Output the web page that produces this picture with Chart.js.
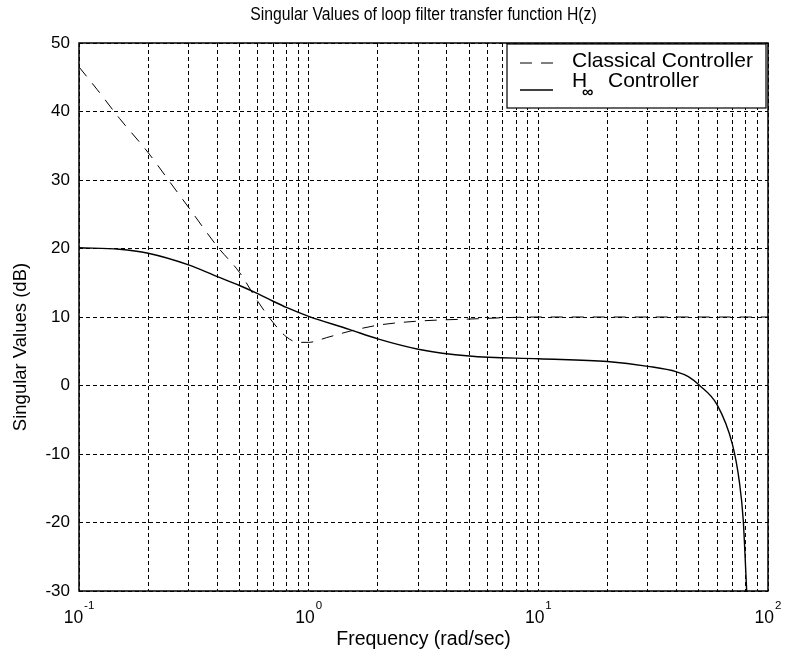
<!DOCTYPE html>
<html>
<head>
<meta charset="utf-8">
<script src="https://cdn.jsdelivr.net/npm/chart.js@4.4.1/dist/chart.umd.min.js"></script>
<style>
  html, body { margin: 0; padding: 0; background: #fff; }
  canvas { display: block; }
</style>
</head>
<body>
<canvas id="svChart" width="788" height="661"></canvas>
<script>
// singular value curves, frequency in rad/sec, magnitude in dB
const freqClassical = [0.1, 0.12, 0.15, 0.2, 0.25, 0.3, 0.4, 0.5, 0.6, 0.7, 0.8, 0.9, 1.0, 1.2, 1.5, 2, 3, 5, 10, 20, 50, 100];
const dbClassical   = [46.5, 43.2, 39.0, 34.0, 29.6, 26.0, 20.3, 16.5, 12.3, 9.2, 7.1, 6.3, 6.3, 7.0, 7.9, 8.8, 9.4, 9.7, 10.0, 10.0, 10.0, 10.0];

const freqHinf = [0.1, 0.15, 0.2, 0.3, 0.4, 0.5, 0.6, 0.7, 0.8, 1.0, 1.5, 2, 3, 5, 10, 20, 30, 40, 45, 50, 60, 70, 75, 78, 80, 81];
const dbHinf   = [20.1, 19.9, 19.3, 17.6, 15.9, 14.6, 13.4, 12.3, 11.4, 10.1, 8.2, 6.8, 5.3, 4.3, 3.9, 3.5, 2.8, 2.0, 1.3, 0.1, -2.8, -8.6, -14.0, -19.6, -27.0, -31.0];

const seriesNames = ['Classical Controller', 'H', 'Controller'];

// decade ticks: mantissa 10, exponent as superscript
const xDecades = [0.1, 1, 10, 100];
const xTickExps = ['-1', '0', '1', '2'];
const yMin = -30, yMax = 50, yStep = 10;

const chartTitle = 'Singular Values of loop filter transfer function H(z)';
const yTitle = 'Singular Values (dB)';

const FONT = "'Liberation Sans', Arial, sans-serif";

// grid at 1..9 of every decade, like a matlab semilogx
const gridValues = [];
xDecades.forEach((d, i) => {
  if (i === xDecades.length - 1) { gridValues.push(d); return; }
  for (let k = 1; k <= 9; k++) gridValues.push(+(d * k).toPrecision(3));
});

const toPoints = (xs, ys) => xs.map((x, i) => ({ x: x, y: ys[i] }));

// box round the plot, titles, decade labels and legend drawn by hand
const framePlugin = {
  id: 'frame',
  afterDraw(chart) {
    const { ctx, chartArea: a } = chart;
    const xs = chart.scales.x;
    ctx.save();
    ctx.strokeStyle = '#000';
    ctx.lineWidth = 1.5;
    ctx.strokeRect(a.left, a.top, a.right - a.left, a.bottom - a.top);

    ctx.fillStyle = '#000';
    ctx.textBaseline = 'alphabetic';

    // title, centred over the axes, a bit condensed
    ctx.save();
    ctx.font = '17.5px ' + FONT;
    ctx.textAlign = 'center';
    ctx.translate((a.left + a.right) / 2, 20);
    ctx.scale(0.9, 1);
    ctx.fillText(chartTitle, 0, 0);
    ctx.restore();

    // 10^n labels
    ctx.textAlign = 'left';
    xDecades.forEach((d, i) => {
      const px = xs.getPixelForValue(d);
      ctx.font = '17.5px ' + FONT;
      const wBase = ctx.measureText('10').width;
      ctx.font = '11.5px ' + FONT;
      const wExp = ctx.measureText(xTickExps[i]).width;
      const x0 = px - (wBase + 1 + wExp) / 2;
      ctx.font = '17.5px ' + FONT;
      ctx.fillText('10', x0, 623);
      ctx.font = '11.5px ' + FONT;
      ctx.fillText(xTickExps[i], x0 + wBase + 1, 609);
    });

    // y axis title
    ctx.font = '18.5px ' + FONT;
    ctx.textAlign = 'center';
    ctx.textBaseline = 'middle';
    ctx.translate(21, 347);
    ctx.rotate(-Math.PI / 2);
    ctx.fillText(yTitle, 0, 0);
    ctx.restore();

    // legend
    const ds = chart.data.datasets;
    const bx = 507, by = 44, bw = 259, bh = 64;
    ctx.save();
    ctx.fillStyle = '#fff';
    ctx.fillRect(bx, by, bw, bh);
    ctx.strokeStyle = '#000';
    ctx.lineWidth = 1.2;
    ctx.strokeRect(bx, by, bw, bh);

    ctx.lineWidth = ds[0].borderWidth;
    ctx.setLineDash(ds[0].borderDash);
    ctx.beginPath();
    ctx.moveTo(520, 63); ctx.lineTo(555, 63);
    ctx.stroke();

    ctx.setLineDash([]);
    ctx.lineWidth = ds[1].borderWidth;
    ctx.beginPath();
    ctx.moveTo(520, 90); ctx.lineTo(553, 90);
    ctx.stroke();

    ctx.fillStyle = '#000';
    ctx.textAlign = 'left';
    ctx.textBaseline = 'alphabetic';
    ctx.font = '21px ' + FONT;
    ctx.fillText(seriesNames[0], 572, 67);
    ctx.fillText(seriesNames[1], 572, 87);
    ctx.fillText(seriesNames[2], 608, 87);
    ctx.font = 'bold 16px ' + FONT;
    ctx.fillText('∞', 582, 97);
    ctx.restore();
  }
};

Chart.defaults.font.family = FONT;
Chart.defaults.color = '#000';

new Chart(document.getElementById('svChart'), {
  type: 'line',
  data: {
    datasets: [
      {
        label: seriesNames[0],
        data: toPoints(freqClassical, dbClassical),
        borderColor: '#000',
        borderWidth: 1,
        borderDash: [12, 9],
        pointRadius: 0,
        cubicInterpolationMode: 'monotone',
        fill: false
      },
      {
        label: seriesNames[1] + '∞ ' + seriesNames[2],
        data: toPoints(freqHinf, dbHinf),
        borderColor: '#000',
        borderWidth: 1.4,
        pointRadius: 0,
        cubicInterpolationMode: 'monotone',
        fill: false
      }
    ]
  },
  options: {
    responsive: false,
    animation: false,
    devicePixelRatio: 1,
    layout: { padding: { left: 0, right: 20, top: 43, bottom: 0 } },
    plugins: {
      legend: { display: false },
      tooltip: { enabled: false },
      title: { display: false }
    },
    scales: {
      x: {
        type: 'logarithmic',
        min: 0.1,
        max: 100,
        afterBuildTicks: (scale) => {
          scale.ticks = gridValues.map(v => ({ value: v }));
        },
        afterFit: (scale) => {
          scale.height = 70;
          scale.paddingLeft = 0;
          scale.paddingRight = 0;
        },
        ticks: {
          autoSkip: false,
          maxRotation: 0,
          callback: () => ''
        },
        grid: { color: '#000', lineWidth: 1, drawTicks: false },
        border: { display: false, dash: [4, 3] },
        title: {
          display: true,
          text: 'Frequency (rad/sec)',
          font: { size: 19.5 },
          padding: { top: 0, bottom: 10 }
        }
      },
      y: {
        min: yMin,
        max: yMax,
        afterFit: (scale) => {
          scale.width = 79;
          scale.paddingTop = 0;
          scale.paddingBottom = 0;
        },
        ticks: {
          stepSize: yStep,
          padding: 9,
          font: { size: 17 }
        },
        grid: { color: '#000', lineWidth: 1, drawTicks: false },
        border: { display: false, dash: [4, 3] }
      }
    }
  },
  plugins: [framePlugin]
});
</script>
</body>
</html>
